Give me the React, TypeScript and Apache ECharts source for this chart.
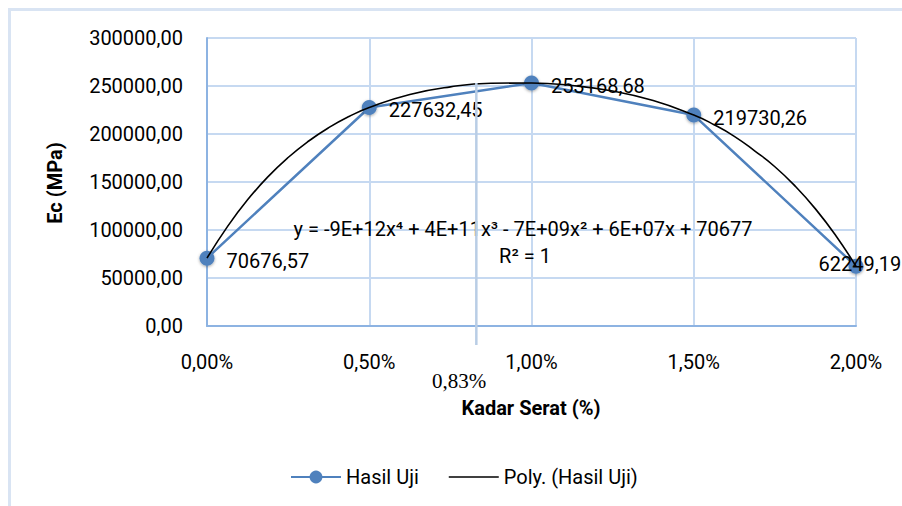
import React, { useEffect, useRef } from "react";
import * as echarts from "echarts";

// Data (Kadar Serat in %, Ec in MPa)
const fiberPct = [0, 0.5, 1, 1.5, 2];
const ecValues = [70676.57, 227632.45, 253168.68, 219730.26, 62249.19];

// Polynomial trendline
const trendX = [
  0, 0.0625, 0.125, 0.1875, 0.25, 0.3125, 0.375, 0.4375, 0.5, 0.625, 0.75, 0.875, 1,
  1.125, 1.25, 1.375, 1.5, 1.5625, 1.625, 1.6875, 1.75, 1.8125, 1.875, 1.9375, 2,
];
const trendY = [
  70677, 103300, 131400, 155300, 175500, 192450, 206600, 218200, 227632, 241200, 249100, 252800, 253169,
  250500, 244700, 234800, 219730, 209700, 197600, 182500, 165900, 145700, 122000, 94300, 62249,
];

const xTicks = [0, 0.5, 1, 1.5, 2];
const yTicks = [0, 50000, 100000, 150000, 200000, 250000, 300000];

const markX = 0.83;
const markLabel = "0,83%";
const equationText = "y = -9E+12x⁴ + 4E+11x³ - 7E+09x² + 6E+07x + 70677";
const r2Text = "R² = 1";

const FONT = "Roboto, 'Noto Sans', sans-serif";
const fmt = (v: number) => v.toFixed(2).replace(".", ",");

export default function App() {
  const ref = useRef<HTMLDivElement>(null);
  useEffect(() => {
    document.body.style.margin = "0";
    if (!ref.current) return;
    const chart = echarts.init(ref.current, undefined, { renderer: "svg" });
    const gridColor = "#c6d9f1";
    const axisColor = "#8db3e2";
    const blue = "#4f81bd";

    const mainData = fiberPct.map((x, i) => {
      const item: any = { value: [x, ecValues[i]] };
      if (i === fiberPct.length - 1) {
        item.label = { offset: [-57, -2] };
      } else {
        item.label = { offset: [0, 3] };
      }
      return item;
    });

    chart.setOption({
      animation: false,
      backgroundColor: "#ffffff",
      textStyle: { fontFamily: FONT },
      grid: { left: 207, top: 38, width: 649, height: 288, containLabel: false },
      xAxis: {
        type: "value",
        min: xTicks[0],
        max: xTicks[xTicks.length - 1],
        interval: xTicks[1] - xTicks[0],
        axisLine: { show: true, lineStyle: { color: axisColor, width: 2 } },
        axisTick: { show: false },
        splitLine: { show: true, lineStyle: { color: gridColor, width: 2 } },
        axisLabel: {
          color: "#000",
          fontSize: 20,
          fontFamily: FONT,
          margin: 26,
          formatter: (v: number) => fmt(v) + "%",
        },
      },
      yAxis: {
        type: "value",
        min: yTicks[0],
        max: yTicks[yTicks.length - 1],
        interval: yTicks[1] - yTicks[0],
        axisLine: { show: true, lineStyle: { color: axisColor, width: 2 } },
        axisTick: { show: false },
        splitLine: { show: true, lineStyle: { color: gridColor, width: 2 } },
        axisLabel: {
          color: "#000",
          fontSize: 20,
          fontFamily: FONT,
          margin: 24,
          formatter: (v: number) => fmt(v),
        },
      },
      legend: {
        left: 285,
        top: 462,
        itemWidth: 50,
        itemHeight: 16,
        itemGap: 30,
        textStyle: { fontSize: 20, color: "#000", fontFamily: FONT },
        data: [
          { name: "Hasil Uji" },
          { name: "Poly. (Hasil Uji)", icon: "path://M0,0H50V1.6H0Z", itemStyle: { color: "#000" } },
        ],
      },
      series: [
        {
          name: "Hasil Uji",
          type: "line",
          data: mainData,
          symbol: "circle",
          symbolSize: 15,
          lineStyle: { color: blue, width: 2.5 },
          itemStyle: {
            color: blue,
            shadowBlur: 3,
            shadowColor: "rgba(0,0,0,0.35)",
            shadowOffsetY: 1,
          },
          label: {
            show: true,
            position: "right",
            distance: 12,
            color: "#000",
            fontSize: 20,
            fontFamily: FONT,
            formatter: (p: any) => fmt(p.value[1]),
          },
          z: 2,
        },
        {
          name: "Poly. (Hasil Uji)",
          type: "line",
          data: trendX.map((x, i) => [x, trendY[i]]),
          smooth: true,
          symbol: "none",
          lineStyle: { color: "#000", width: 1.6 },
          itemStyle: { color: "#000" },
          z: 3,
        },
      ],
    });

    const top = chart.convertToPixel({ gridIndex: 0 }, [markX, ecValues[2]]) as number[];
    const bottom = chart.convertToPixel({ gridIndex: 0 }, [markX, 0]) as number[];

    chart.setOption({
      graphic: [
        {
          type: "rect",
          shape: { x: 9.5, y: 9.5, width: 1000, height: 1000 },
          style: { fill: "none", stroke: "#d9e4f3", lineWidth: 3 },
          silent: true,
          z: 0,
        },
        {
          type: "line",
          shape: { x1: top[0], y1: top[1], x2: bottom[0], y2: bottom[1] + 19 },
          style: { stroke: "#b9cde5", lineWidth: 2.5 },
          z: 10,
        },
        {
          type: "text",
          x: 459,
          y: 381,
          style: {
            text: markLabel,
            fontFamily: "'Liberation Serif', 'Times New Roman', serif",
            fontSize: 21,
            fill: "#000",
            align: "center",
            verticalAlign: "middle",
          },
          z: 10,
        },
        {
          type: "text",
          x: 523,
          y: 229,
          style: {
            text: equationText,
            fontFamily: FONT,
            fontSize: 20,
            fill: "#000",
            align: "center",
            verticalAlign: "middle",
          },
          z: 9,
        },
        {
          type: "text",
          x: 525,
          y: 256,
          style: {
            text: r2Text,
            fontFamily: FONT,
            fontSize: 20,
            fill: "#000",
            align: "center",
            verticalAlign: "middle",
          },
          z: 9,
        },
        {
          type: "text",
          x: 531,
          y: 408,
          style: {
            text: "Kadar Serat (%)",
            fontFamily: FONT,
            fontWeight: "bold",
            fontSize: 20,
            fill: "#000",
            align: "center",
            verticalAlign: "middle",
          },
        },
        {
          type: "text",
          x: 55,
          y: 183,
          rotation: Math.PI / 2,
          style: {
            text: "Ec (MPa)",
            fontFamily: FONT,
            fontWeight: "bold",
            fontSize: 20,
            fill: "#000",
            align: "center",
            verticalAlign: "middle",
          },
        },
      ],
    });

    return () => chart.dispose();
  }, []);
  return <div ref={ref} style={{ width: 902, height: 506 }} />;
}
